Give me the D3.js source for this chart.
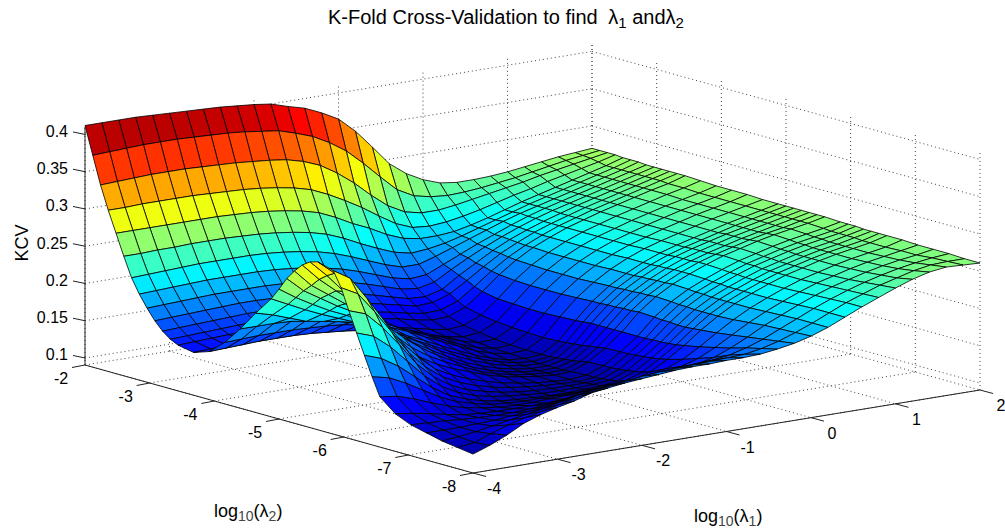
<!DOCTYPE html>
<html>
<head>
<meta charset="utf-8">
<script src="https://cdn.jsdelivr.net/npm/d3@7"></script>
<style>
  body { margin: 0; background: #fff; }
  text { font-family: "Liberation Sans", Arial, sans-serif; fill: #000; }
</style>
</head>
<body>
<svg id="chart" width="1005" height="531"></svg>
<script>
// ─── DATA ─────────────────────────────────────────────────────────────────────
const log10L1 = [-4,-3.8,-3.6,-3.4,-3.2,-3,-2.8,-2.6,-2.4,-2.2,-2,-1.8,-1.6,-1.4,-1.2,-1,-0.8,-0.6,-0.4,-0.2,0,0.2,0.4,0.6,0.8,1,1.2,1.4,1.6,1.8,2];
// rows are read closer together on the two steep faces
const log10L2 = [-2,-2.12,-2.24,-2.36,-2.48,-2.6,-2.72,-2.84,-2.96,-3.08,-3.2,-3.32,-3.44,-3.68,-3.92,-4.16,-4.4,-4.64,-4.88,-5,-5.12,-5.24,-5.36,-5.48,-5.6,-5.84,-5.96,-6.08,-6.2,-6.32,-6.44,-6.56,-6.8,-7.04,-7.28,-7.52,-7.76,-8];
// one row per log10L2, one column per log10L1
const kcv = [
  [.412,.412,.412,.412,.411,.410,.409,.408,.407,.405,.403,.400,.393,.387,.377,.365,.345,.320,.294,.277,.265,.257,.254,.254,.255,.257,.260,.263,.266,.268,.270],
  [.375,.376,.377,.378,.378,.378,.377,.376,.375,.373,.370,.367,.360,.352,.340,.325,.305,.283,.262,.250,.245,.243,.244,.246,.249,.252,.256,.260,.264,.267,.270],
  [.338,.339,.340,.341,.341,.341,.340,.339,.338,.336,.334,.331,.325,.316,.302,.285,.265,.247,.235,.230,.230,.233,.237,.241,.245,.249,.254,.258,.262,.266,.270],
  [.307,.307,.308,.308,.308,.308,.307,.306,.305,.303,.300,.296,.290,.280,.268,.255,.240,.226,.217,.215,.217,.221,.226,.232,.238,.243,.249,.254,.259,.264,.270],
  [.279,.279,.279,.279,.279,.279,.279,.278,.277,.275,.272,.268,.262,.252,.240,.230,.218,.209,.205,.205,.207,.212,.218,.225,.232,.238,.244,.250,.256,.262,.269],
  [.251,.251,.252,.252,.253,.253,.253,.252,.251,.249,.246,.242,.236,.227,.216,.206,.197,.192,.194,.198,.204,.211,.218,.225,.232,.238,.244,.250,.256,.262,.269],
  [.225,.226,.227,.228,.229,.229,.229,.229,.228,.226,.223,.219,.213,.205,.196,.187,.180,.180,.187,.195,.203,.211,.219,.226,.232,.238,.244,.250,.256,.262,.269],
  [.206,.207,.208,.209,.210,.210,.210,.210,.209,.207,.204,.200,.195,.188,.180,.172,.167,.169,.179,.189,.199,.208,.217,.225,.232,.238,.244,.250,.256,.262,.268],
  [.190,.191,.192,.193,.194,.194,.194,.194,.193,.191,.189,.185,.180,.174,.167,.160,.157,.162,.175,.187,.198,.208,.217,.225,.232,.238,.244,.250,.256,.262,.268],
  [.176,.177,.178,.179,.180,.181,.181,.180,.179,.178,.175,.172,.168,.162,.156,.150,.149,.155,.170,.183,.196,.207,.216,.224,.231,.238,.244,.250,.256,.262,.268],
  [.165,.166,.167,.168,.169,.170,.170,.169,.168,.167,.165,.162,.158,.153,.148,.143,.144,.152,.166,.181,.195,.206,.216,.224,.231,.238,.244,.250,.256,.262,.268],
  [.157,.158,.159,.160,.161,.162,.162,.161,.160,.158,.156,.153,.149,.145,.140,.136,.137,.145,.161,.178,.193,.205,.215,.224,.231,.238,.244,.250,.256,.262,.268],
  [.152,.153,.154,.155,.156,.156,.156,.155,.154,.152,.150,.147,.143,.139,.134,.130,.131,.140,.157,.176,.192,.205,.215,.224,.231,.238,.244,.250,.256,.261,.268],
  [.148,.149,.150,.151,.151,.151,.151,.150,.149,.147,.145,.141,.137,.132,.127,.123,.125,.135,.153,.174,.191,.204,.215,.224,.231,.238,.244,.250,.256,.261,.267],
  [.155,.156,.157,.158,.158,.158,.157,.155,.153,.150,.146,.141,.135,.129,.123,.119,.121,.132,.152,.173,.190,.204,.215,.224,.231,.238,.244,.250,.255,.260,.266],
  [.173,.174,.175,.175,.175,.174,.173,.171,.167,.162,.156,.148,.140,.131,.123,.117,.118,.130,.151,.173,.190,.204,.215,.224,.231,.238,.244,.250,.255,.260,.266],
  [.197,.197,.197,.196,.195,.192,.188,.183,.176,.168,.158,.148,.138,.128,.120,.115,.116,.129,.151,.173,.190,.204,.215,.224,.231,.238,.244,.250,.255,.260,.266],
  [.224,.218,.210,.202,.198,.194,.189,.183,.175,.166,.155,.145,.135,.125,.118,.114,.115,.128,.152,.174,.191,.205,.216,.225,.232,.238,.244,.250,.255,.260,.265],
  [.249,.238,.227,.217,.208,.199,.190,.180,.170,.160,.149,.139,.129,.121,.115,.113,.115,.129,.153,.175,.192,.205,.216,.225,.232,.238,.244,.250,.255,.260,.265],
  [.265,.250,.237,.225,.215,.203,.191,.179,.167,.156,.145,.135,.126,.119,.114,.112,.115,.130,.154,.175,.192,.205,.216,.225,.232,.238,.244,.250,.255,.260,.265],
  [.282,.262,.248,.234,.222,.207,.192,.178,.165,.152,.141,.131,.123,.117,.113,.112,.116,.131,.155,.176,.193,.206,.217,.226,.233,.239,.245,.250,.255,.260,.265],
  [.295,.272,.256,.240,.224,.206,.189,.173,.160,.147,.136,.127,.120,.115,.112,.112,.117,.132,.155,.176,.193,.206,.217,.226,.233,.239,.245,.250,.255,.260,.265],
  [.306,.283,.264,.246,.226,.206,.186,.169,.155,.143,.132,.124,.118,.114,.112,.112,.118,.134,.155,.177,.194,.207,.218,.226,.233,.239,.245,.250,.255,.260,.265],
  [.313,.291,.266,.242,.217,.196,.176,.161,.149,.139,.129,.122,.117,.114,.112,.112,.120,.135,.155,.177,.194,.207,.218,.227,.234,.240,.246,.251,.255,.260,.265],
  [.316,.297,.268,.238,.208,.186,.166,.153,.143,.135,.127,.121,.117,.114,.112,.113,.122,.137,.155,.178,.195,.208,.218,.227,.235,.241,.247,.252,.256,.260,.265],
  [.310,.296,.265,.232,.200,.176,.156,.144,.135,.128,.122,.118,.115,.113,.112,.114,.123,.138,.155,.177,.194,.207,.217,.226,.234,.240,.246,.251,.255,.259,.264],
  [.290,.278,.250,.219,.188,.165,.148,.137,.129,.123,.119,.116,.114,.113,.112,.114,.123,.138,.155,.176,.193,.206,.216,.225,.233,.239,.245,.250,.254,.258,.264],
  [.262,.254,.232,.205,.176,.155,.140,.130,.124,.119,.116,.114,.113,.113,.113,.115,.124,.139,.156,.176,.193,.206,.216,.225,.233,.239,.245,.250,.254,.258,.264],
  [.235,.227,.209,.186,.163,.145,.133,.125,.120,.117,.115,.113,.113,.113,.114,.116,.125,.140,.156,.175,.192,.205,.215,.224,.232,.238,.244,.249,.253,.258,.263],
  [.208,.200,.186,.168,.150,.136,.127,.121,.117,.115,.114,.113,.113,.114,.115,.118,.127,.141,.157,.175,.192,.205,.215,.224,.232,.238,.244,.249,.253,.258,.263],
  [.182,.177,.166,.153,.140,.130,.124,.119,.117,.116,.116,.116,.116,.117,.119,.121,.129,.143,.158,.176,.192,.205,.215,.224,.232,.238,.244,.249,.253,.257,.263],
  [.158,.155,.148,.139,.131,.125,.121,.118,.117,.117,.118,.119,.120,.121,.123,.125,.132,.145,.160,.177,.192,.205,.215,.224,.232,.238,.244,.249,.253,.257,.263],
  [.141,.138,.134,.129,.125,.123,.122,.122,.122,.122,.124,.127,.130,.132,.134,.137,.142,.151,.164,.179,.193,.205,.215,.224,.232,.238,.244,.249,.253,.257,.263],
  [.132,.131,.130,.128,.127,.126,.126,.127,.129,.132,.135,.138,.141,.143,.145,.148,.151,.158,.169,.182,.195,.206,.216,.225,.233,.239,.245,.250,.254,.258,.262],
  [.127,.127,.127,.128,.129,.131,.133,.136,.140,.144,.147,.150,.152,.154,.156,.158,.160,.165,.174,.185,.197,.207,.217,.226,.234,.240,.246,.251,.255,.258,.262],
  [.122,.124,.127,.131,.135,.139,.143,.148,.153,.157,.159,.161,.163,.165,.167,.170,.171,.174,.180,.188,.198,.208,.218,.227,.235,.242,.248,.253,.257,.260,.262],
  [.119,.122,.130,.138,.144,.149,.154,.159,.164,.168,.171,.174,.176,.177,.178,.179,.180,.181,.185,.191,.199,.208,.218,.228,.236,.244,.250,.256,.260,.261,.261],
  [.116,.124,.134,.146,.154,.160,.165,.172,.175,.178,.180,.182,.184,.185,.185,.186,.186,.187,.190,.194,.200,.208,.218,.228,.237,.246,.254,.260,.263,.262,.261]
];

const l1Ticks = [-4,-3,-2,-1,0,1,2];
const l2Ticks = [-2,-3,-4,-5,-6,-7,-8];
const zTicks = [0.1,0.15,0.2,0.25,0.3,0.35,0.4];
const zTickLabels = ['0.1','0.15','0.2','0.25','0.3','0.35','0.4'];
const zLimits = [0.0906,0.41];
const colorLimits = [0.108,0.412];

// ─── PROJECTION ───────────────────────────────────────────────────────────────
// orthographic box: the origin is the left floor corner (l1=-4, l2=-2)
const origin = { x: 85, y: 365 };
const xL1 = d3.scaleLinear().domain([-4,2]).range([0,507]);
const yL1 = d3.scaleLinear().domain([-4,2]).range([0,-83]);
const xL2 = d3.scaleLinear().domain([-2,-8]).range([0,388]);
const yL2 = d3.scaleLinear().domain([-2,-8]).range([0,108]);
const yZ  = d3.scaleLinear().domain(zLimits).range([0,-238]);

const px = (l1, l2) => origin.x + xL1(l1) + xL2(l2);
const py = (l1, l2, z) => origin.y + yL1(l1) + yL2(l2) + yZ(z);
const pt = (l1, l2, z) => [px(l1, l2), py(l1, l2, z)];

// jet colormap
const t = d3.scaleLinear().domain(colorLimits).range([0,1]).clamp(true);
const jet = d3.scaleLinear()
  .domain([0,1/8,3/8,5/8,7/8,1])
  .range(['#00008f','#0000ff','#00ffff','#ffff00','#ff0000','#800000']);

const svg = d3.select('#chart');
const line = d3.line();

// ─── GRID ─────────────────────────────────────────────────────────────────────
const zMin = zLimits[0], zMax = zLimits[1];
const gridSegs = [];
l1Ticks.forEach((v) => {
  gridSegs.push([pt(v,-2,zMin), pt(v,-8,zMin)]);          // floor
  gridSegs.push([pt(v,-2,zMin), pt(v,-2,zMax)]);          // back-left wall
});
l2Ticks.forEach((v) => {
  gridSegs.push([pt(-4,v,zMin), pt(2,v,zMin)]);           // floor
  gridSegs.push([pt(2,v,zMin), pt(2,v,zMax)]);            // back-right wall
});
zTicks.forEach((v) => {
  gridSegs.push([pt(-4,-2,v), pt(2,-2,v)]);
  gridSegs.push([pt(2,-2,v), pt(2,-8,v)]);
});
svg.append('g').selectAll('path').data(gridSegs).join('path')
  .attr('d', line)
  .attr('fill', 'none')
  .attr('stroke', '#444')
  .attr('stroke-width', 1)
  .attr('stroke-dasharray', '1 3');

// ─── SURFACE ──────────────────────────────────────────────────────────────────
// painter's order: far corner (l2=-2, l1=2) first
const cells = [];
for (let i = 0; i < log10L2.length - 1; i++) {
  for (let j = log10L1.length - 2; j >= 0; j--) {
    cells.push({ i, j });
  }
}
svg.append('g').selectAll('path').data(cells).join('path')
  .attr('d', ({ i, j }) => line([
    pt(log10L1[j],   log10L2[i],   kcv[i][j]),
    pt(log10L1[j+1], log10L2[i],   kcv[i][j+1]),
    pt(log10L1[j+1], log10L2[i+1], kcv[i+1][j+1]),
    pt(log10L1[j],   log10L2[i+1], kcv[i+1][j]),
  ]) + 'Z')
  .attr('fill', ({ i, j }) => jet(t((kcv[i][j] + kcv[i][j+1] + kcv[i+1][j] + kcv[i+1][j+1]) / 4)))
  .attr('stroke', '#000')
  .attr('stroke-width', 0.8)
  .attr('stroke-linejoin', 'round');

// ─── AXES ─────────────────────────────────────────────────────────────────────
const axis = svg.append('g').attr('fill', 'none').attr('stroke', '#222').attr('stroke-width', 1);
axis.append('path').attr('d', line([pt(-4,-2,zMax), pt(-4,-2,zMin), pt(-4,-8,zMin), pt(2,-8,zMin)]));

zTicks.forEach((v, k) => {
  const [x, y] = pt(-4,-2,v);
  axis.append('path').attr('d', line([[x, y], [x - 12, y - 2.5]]));
  svg.append('text').attr('x', x - 17).attr('y', y + 2.5)
    .attr('text-anchor', 'end').attr('font-size', 16).text(zTickLabels[k]);
});
l2Ticks.forEach((v) => {
  const [x, y] = pt(-4,v,zMin);
  axis.append('path').attr('d', line([[x, y], [x - 13, y + 2.5]]));
  svg.append('text').attr('x', x - 24).attr('y', y + 19)
    .attr('text-anchor', 'middle').attr('font-size', 16).text(v);
});
l1Ticks.forEach((v) => {
  const [x, y] = pt(v,-8,zMin);
  axis.append('path').attr('d', line([[x, y], [x + 13, y + 3.5]]));
  svg.append('text').attr('x', x + 21).attr('y', y + 21)
    .attr('text-anchor', 'middle').attr('font-size', 16).text(v);
});

// ─── LABELS ───────────────────────────────────────────────────────────────────
const title = svg.append('text').attr('x', 328).attr('y', 24).attr('font-size', 20);
title.append('tspan').text('K-Fold Cross-Validation to find ');
title.append('tspan').attr('dx', 5).text('λ');
title.append('tspan').attr('font-size', 15).attr('dy', 4).text('1');
title.append('tspan').attr('dy', -4).text(' and');
title.append('tspan').text('λ');
title.append('tspan').attr('font-size', 15).attr('dy', 4).text('2');

function logLabel(x, y, sub) {
  const g = svg.append('text').attr('x', x).attr('y', y).attr('font-size', 18);
  g.append('tspan').text('log');
  g.append('tspan').attr('font-size', 14).attr('dy', 4).attr('fill', '#444').text('10');
  g.append('tspan').attr('dy', -4).text('(λ');
  g.append('tspan').attr('font-size', 14).attr('dy', 4).attr('fill', '#444').text(sub);
  g.append('tspan').attr('dy', -4).text(')');
}
logLabel(214, 517, '2');
logLabel(694, 522, '1');

svg.append('text')
  .attr('transform', 'translate(28,243) rotate(-90)')
  .attr('text-anchor', 'middle').attr('font-size', 18).text('KCV');
</script>
</body>
</html>
